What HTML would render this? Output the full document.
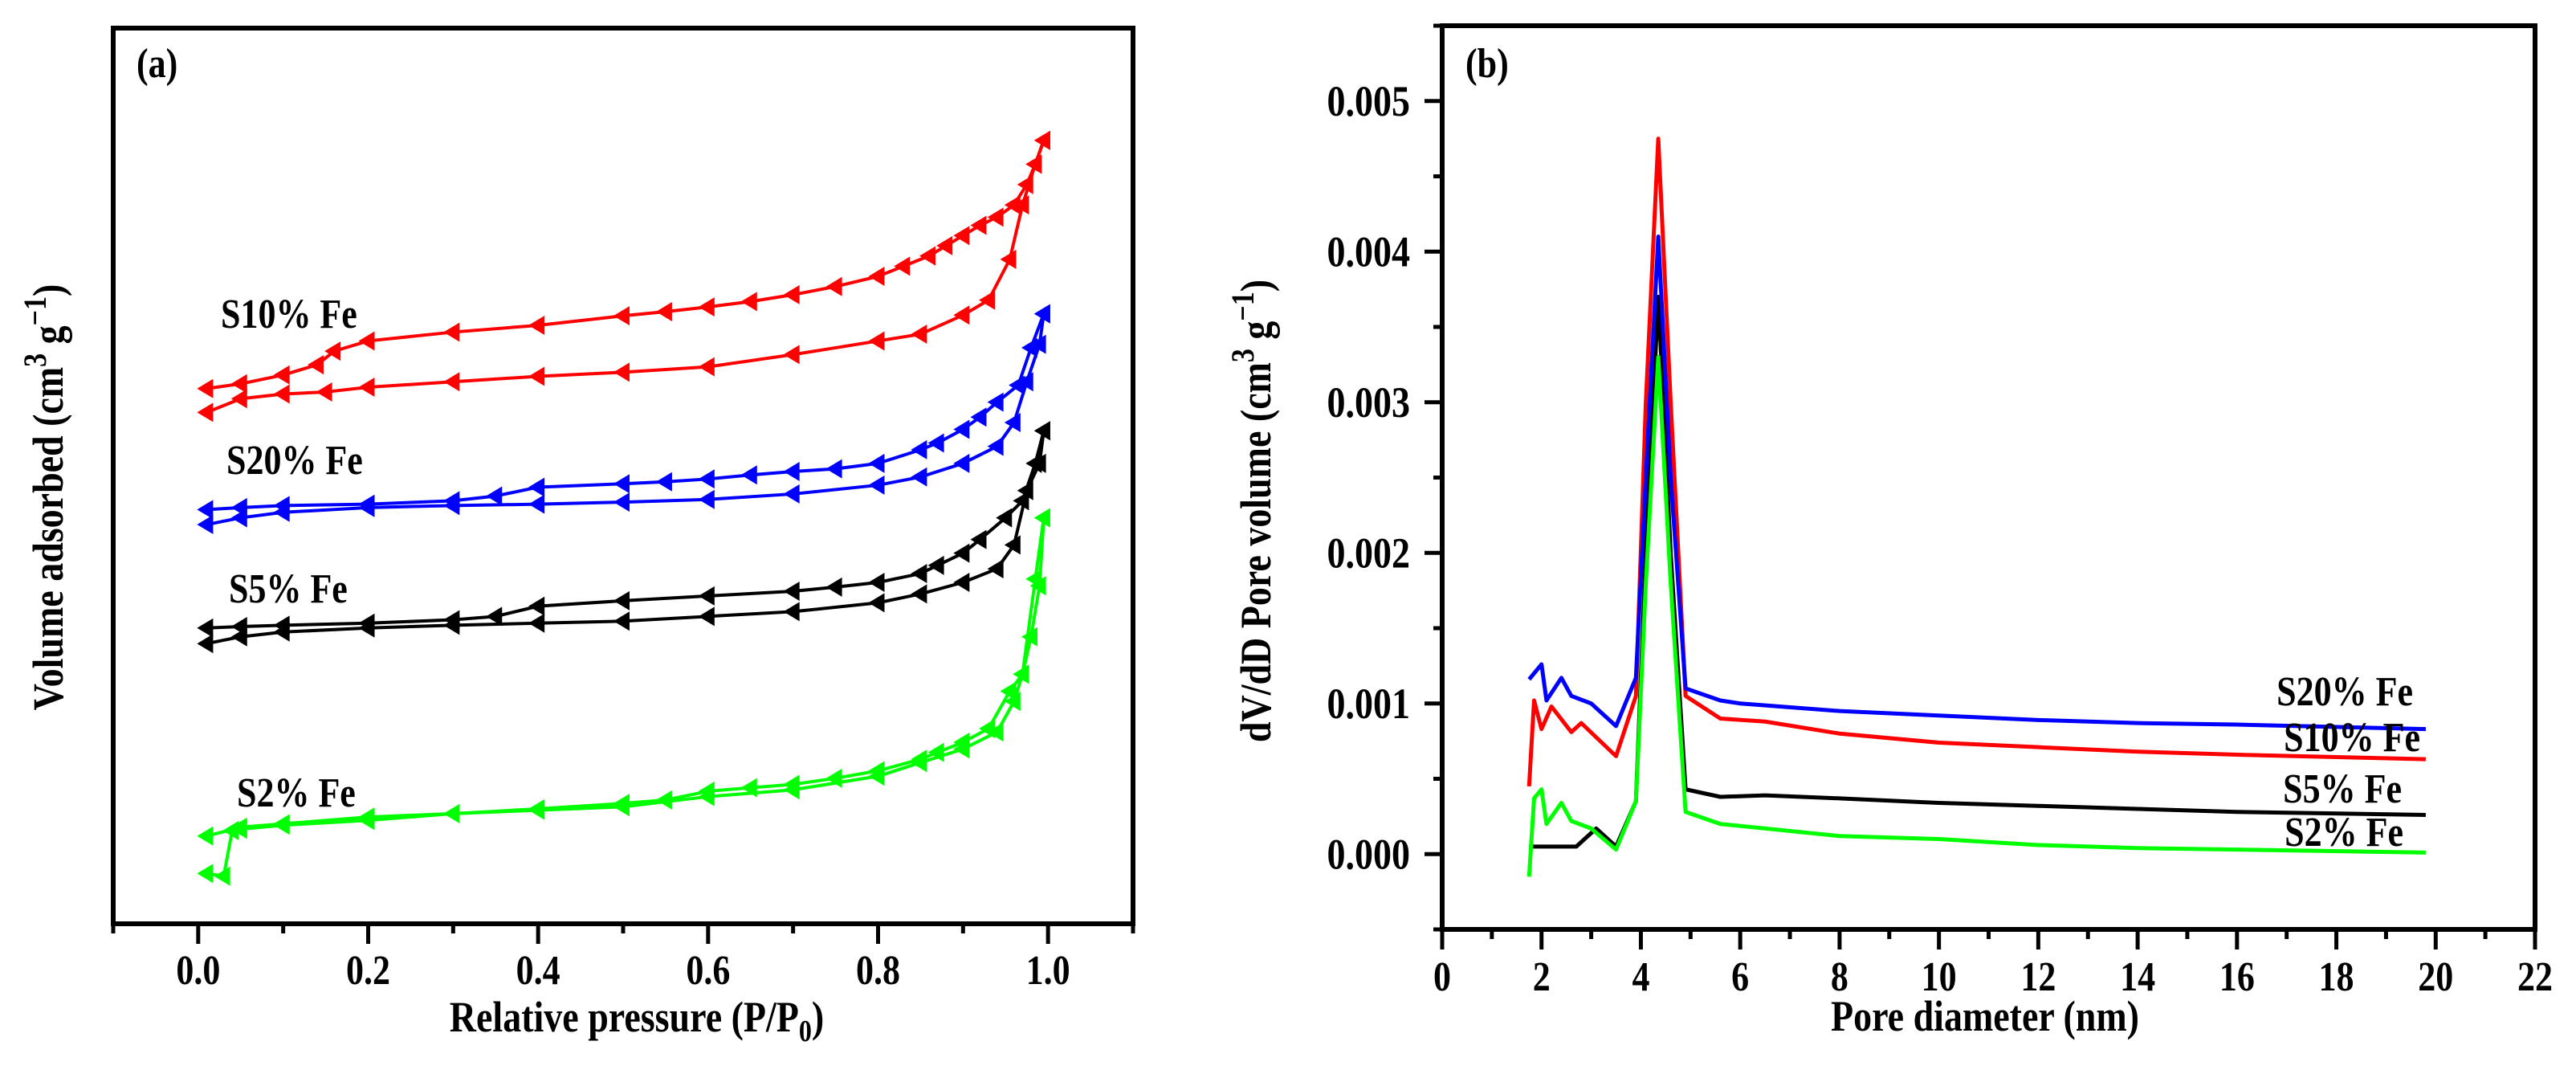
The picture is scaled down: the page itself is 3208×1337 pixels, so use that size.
<!DOCTYPE html>
<html><head><meta charset="utf-8"><style>
html,body{margin:0;padding:0;background:#fff;}
svg{display:block;font-family:"Liberation Serif",serif;font-weight:bold;}
</style></head><body>
<svg id="fig" width="3208" height="1337" viewBox="0 0 3208 1337" xmlns="http://www.w3.org/2000/svg">
<g id="pa"></g>
<g id="pb"></g>
</svg>
<script>
// ---------- Panel (a) data: relative pressure vs volume adsorbed (arbitrary units) ----------
const aXTicks = [0.0, 0.2, 0.4, 0.6, 0.8, 1.0];
const aXTickLabels = ["0.0", "0.2", "0.4", "0.6", "0.8", "1.0"];
const s10AdsX = [0.01,0.05,0.1,0.15,0.2,0.3,0.4,0.5,0.6,0.7,0.8,0.85,0.9,0.93,0.955,0.97,0.985,0.995];
const s10AdsV = [752,772,779,782,789,797,805,811,819,837,857,867,895,917,977,1057,1117,1152];
const s10DesX = [0.995,0.985,0.975,0.96,0.94,0.92,0.9,0.88,0.86,0.83,0.8,0.75,0.7,0.65,0.6,0.55,0.5,0.4,0.3,0.2,0.16,0.14,0.1,0.05,0.01];
const s10DesV = [1152,1117,1087,1057,1039,1027,1012,997,982,967,952,937,925,915,907,900,894,880,870,857,842,822,807,794,787];
const s20AdsX = [0.01,0.05,0.1,0.2,0.3,0.4,0.5,0.6,0.7,0.8,0.85,0.9,0.94,0.96,0.975,0.99,0.995];
const s20AdsV = [587,597,605,612,615,617,620,624,632,645,657,677,702,737,797,852,897];
const s20DesX = [0.995,0.98,0.965,0.94,0.92,0.9,0.87,0.85,0.8,0.75,0.7,0.65,0.6,0.55,0.5,0.4,0.35,0.3,0.2,0.1,0.05,0.01];
const s20DesV = [897,847,792,767,745,727,707,697,677,669,665,660,654,650,647,642,629,622,617,615,612,609];
const s5AdsX = [0.01,0.05,0.1,0.2,0.3,0.4,0.5,0.6,0.7,0.8,0.85,0.9,0.94,0.96,0.975,0.99,0.995];
const s5AdsV = [412,422,429,435,439,442,445,452,459,472,485,502,522,557,637,677,725];
const s5DesX = [0.995,0.985,0.97,0.95,0.92,0.9,0.87,0.85,0.8,0.75,0.7,0.6,0.5,0.4,0.35,0.3,0.2,0.1,0.05,0.01];
const s5DesV = [725,677,622,597,565,545,527,515,502,495,489,482,475,467,452,447,442,439,437,435];
const s2AdsX = [0.01,0.03,0.04,0.05,0.1,0.2,0.3,0.4,0.5,0.6,0.7,0.8,0.85,0.9,0.94,0.96,0.97,0.98,0.99,0.995];
const s2AdsV = [74,70,137,139,145,152,162,167,172,187,197,217,237,257,282,327,367,422,497,597];
const s2DesX = [0.995,0.985,0.97,0.955,0.93,0.9,0.87,0.85,0.8,0.75,0.7,0.65,0.6,0.55,0.5,0.4,0.3,0.2,0.1,0.05,0.01];
const s2DesV = [597,507,367,342,287,267,252,242,225,214,205,200,195,182,177,169,162,157,147,142,129];

// ---------- Panel (b) data: pore diameter (nm) vs dV/dD ----------
const bXTicks = [0,2,4,6,8,10,12,14,16,18,20,22];
const bYTicks = [0.000,0.001,0.002,0.003,0.004,0.005];
const bYTickLabels = ["0.000","0.001","0.002","0.003","0.004","0.005"];
const b20X = [1.75,2.0,2.1,2.4,2.6,3.0,3.5,3.9,4.1,4.35,4.6,4.9,5.6,6,8,10,12,14,16,19.8];
const b20Y = [0.00116,0.00126,0.00102,0.00117,0.00105,0.001,0.00085,0.00117,0.0025,0.0041,0.0025,0.0011,0.00102,0.001,0.00095,0.00092,0.00089,0.00087,0.00086,0.00083];
const b10X = [1.75,1.85,2.0,2.2,2.6,2.8,3.5,3.9,4.1,4.35,4.6,4.9,5.6,6.5,8,10,12,14,16,19.8];
const b10Y = [0.00045,0.00102,0.00083,0.00098,0.00081,0.00087,0.00065,0.00105,0.003,0.00475,0.003,0.00105,0.0009,0.00088,0.0008,0.00074,0.00071,0.00068,0.00066,0.00063];
const b5X = [1.75,2.7,3.1,3.5,3.9,4.1,4.35,4.6,4.9,5.6,6.5,8,10,12,14,16,19.8];
const b5Y = [0.00005,0.00005,0.00017,0.00005,0.00035,0.002,0.0037,0.002,0.00043,0.00038,0.00039,0.00037,0.00034,0.00032,0.0003,0.00028,0.00026];
const b2X = [1.75,1.85,2.0,2.1,2.4,2.6,3.0,3.5,3.9,4.1,4.35,4.6,4.9,5.6,8,10,12,14,16,19.8];
const b2Y = [-0.00015,0.00037,0.00043,0.0002,0.00034,0.00022,0.00017,0.00003,0.00035,0.0018,0.0033,0.0018,0.00028,0.0002,0.00012,0.0001,0.00006,0.00004,0.00003,0.00001];

const NS = "http://www.w3.org/2000/svg";
const SY = 1.18; // vertical stretch of text as in reference
function mk(tag, attrs, parent){ const e=document.createElementNS(NS,tag); for(const k in attrs) e.setAttribute(k,attrs[k]); parent.appendChild(e); return e; }
function txt(parent, x, y, size, anchor, rot){
  const tr = rot ? `translate(${x},${y}) rotate(-90) scale(1,${SY})` : `translate(${x},${y}) scale(1,${SY})`;
  return mk('text',{x:0,y:0,'text-anchor':anchor,'font-size':size,transform:tr},parent);
}

// Panel a axes
const A = {l:141, r:1411, t:35, b:1150, x0:-0.1, x1:1.1, v0:0, v1:1317};
const ax = x => A.l + (x-A.x0)/(A.x1-A.x0)*(A.r-A.l);
const ay = v => A.b - (v-A.v0)/(A.v1-A.v0)*(A.b-A.t);
const pa = document.getElementById('pa');

function drawIso(xs, vs, color, name){
  const g = mk('g',{},pa);
  
  
  const pts = xs.map((x,i)=>ax(x)+','+ay(vs[i])).join(' ');
  mk('polyline',{points:pts,fill:'none',stroke:color,'stroke-width':4,'stroke-linejoin':'round'},g);
  xs.forEach((x,i)=>{
    const cx=ax(x), cy=ay(vs[i]);
    const m = mk('polygon',{points:`${cx-12},${cy} ${cx+8},${cy-12} ${cx+8},${cy+12}`,fill:color},g);
    
    
  });
}
drawIso(s10AdsX,s10AdsV,'#ff0000','s10-adsorption');
drawIso(s10DesX,s10DesV,'#ff0000','s10-desorption');
drawIso(s20AdsX,s20AdsV,'#0000ff','s20-adsorption');
drawIso(s20DesX,s20DesV,'#0000ff','s20-desorption');
drawIso(s5AdsX,s5AdsV,'#000000','s5-adsorption');
drawIso(s5DesX,s5DesV,'#000000','s5-desorption');
drawIso(s2AdsX,s2AdsV,'#00ff00','s2-adsorption');
drawIso(s2DesX,s2DesV,'#00ff00','s2-desorption');

const fa = mk('rect',{x:A.l,y:A.t,width:A.r-A.l,height:A.b-A.t,fill:'none',stroke:'#000','stroke-width':6},pa);


for(let x=-0.1; x<=1.1001; x+=0.1){
  const major = aXTicks.some(t=>Math.abs(t-x)<1e-6);
  mk('line',{x1:ax(x),x2:ax(x),y1:A.b,y2:A.b+(major?25:12),stroke:'#000','stroke-width':5},pa);
}
aXTicks.forEach((t,i)=>{
  const tx = txt(pa, ax(t), 1225, 44, 'middle');
  tx.textContent = aXTickLabels[i];
  
  
});
let t;
t = txt(pa, 793, 1284, 46, 'middle');
t.innerHTML = 'Relative pressure (P/P<tspan font-size="32" dy="10">0</tspan><tspan dy="-10">)</tspan>';


t = txt(pa, 78, 619, 46, 'middle', true);
t.innerHTML = 'Volume adsorbed (cm<tspan dy="-18" font-size="34">3</tspan><tspan dy="18"> g</tspan><tspan dy="-18" font-size="34">−1</tspan><tspan dy="18">)</tspan>';


t = txt(pa, 170, 96, 44, 'start'); t.textContent='(a)';


[['S10% Fe',275,408],['S20% Fe',282,590],['S5% Fe',285,750],['S2% Fe',295,1004]].forEach(d=>{
  const e = txt(pa, d[1], d[2], 44, 'start'); e.textContent=d[0];
  
  
});

// Panel b
const B = {l:1796, r:3157, t:32, b:1157, x0:0, x1:22, y0:-0.0005, y1:0.0055};
const bx = x => B.l + (x-B.x0)/(B.x1-B.x0)*(B.r-B.l);
const by = y => B.b - (y-B.y0)/(B.y1-B.y0)*(B.b-B.t);
const pb = document.getElementById('pb');
function drawPsd(xs, ys, color, name){
  const p = mk('polyline',{points:xs.map((x,i)=>bx(x)+','+by(ys[i])).join(' '),fill:'none',stroke:color,'stroke-width':5,'stroke-linejoin':'round'},pb);
  
  
}
drawPsd(b5X,b5Y,'#000000','s5-line');
drawPsd(b2X,b2Y,'#00ff00','s2-line');
drawPsd(b10X,b10Y,'#ff0000','s10-line');
drawPsd(b20X,b20Y,'#0000ff','s20-line');

const fb = mk('rect',{x:B.l,y:B.t,width:B.r-B.l,height:B.b-B.t,fill:'none',stroke:'#000','stroke-width':6},pb);


for(let x=0; x<=22.001; x+=1){
  const major = x%2===0;
  mk('line',{x1:bx(x),x2:bx(x),y1:B.b,y2:B.b+(major?25:12),stroke:'#000','stroke-width':5},pb);
}
bXTicks.forEach(v=>{
  const e = txt(pb, bx(v), 1233, 44, 'middle'); e.textContent=String(v);
  
  
});
for(let k=-1; k<=11; k++){
  const y = k*0.0005; if(y<B.y0-1e-9||y>B.y1+1e-9) continue;
  const major = k%2===0;
  mk('line',{x1:B.l,x2:B.l-(major?22:11),y1:by(y),y2:by(y),stroke:'#000','stroke-width':5},pb);
}
bYTicks.forEach((v,i)=>{
  const e = txt(pb, 1756, by(v)+18, 46, 'end'); e.textContent=bYTickLabels[i];
  
  
});
t = txt(pb, 2472, 1283, 46, 'middle'); t.textContent='Pore diameter (nm)';


t = txt(pb, 1582, 636, 46, 'middle', true);
t.innerHTML = 'dV/dD Pore volume (cm<tspan dy="-18" font-size="34">3</tspan><tspan dy="18"> g</tspan><tspan dy="-18" font-size="34">−1</tspan><tspan dy="18">)</tspan>';


t = txt(pb, 1825, 96, 44, 'start'); t.textContent='(b)';


[['S20% Fe',3005,878],['S10% Fe',3014,935],['S5% Fe',2991,999],['S2% Fe',2993,1053]].forEach(d=>{
  const e = txt(pb, d[1], d[2], 44, 'end'); e.textContent=d[0];
  
  
});
</script>
</body></html>
